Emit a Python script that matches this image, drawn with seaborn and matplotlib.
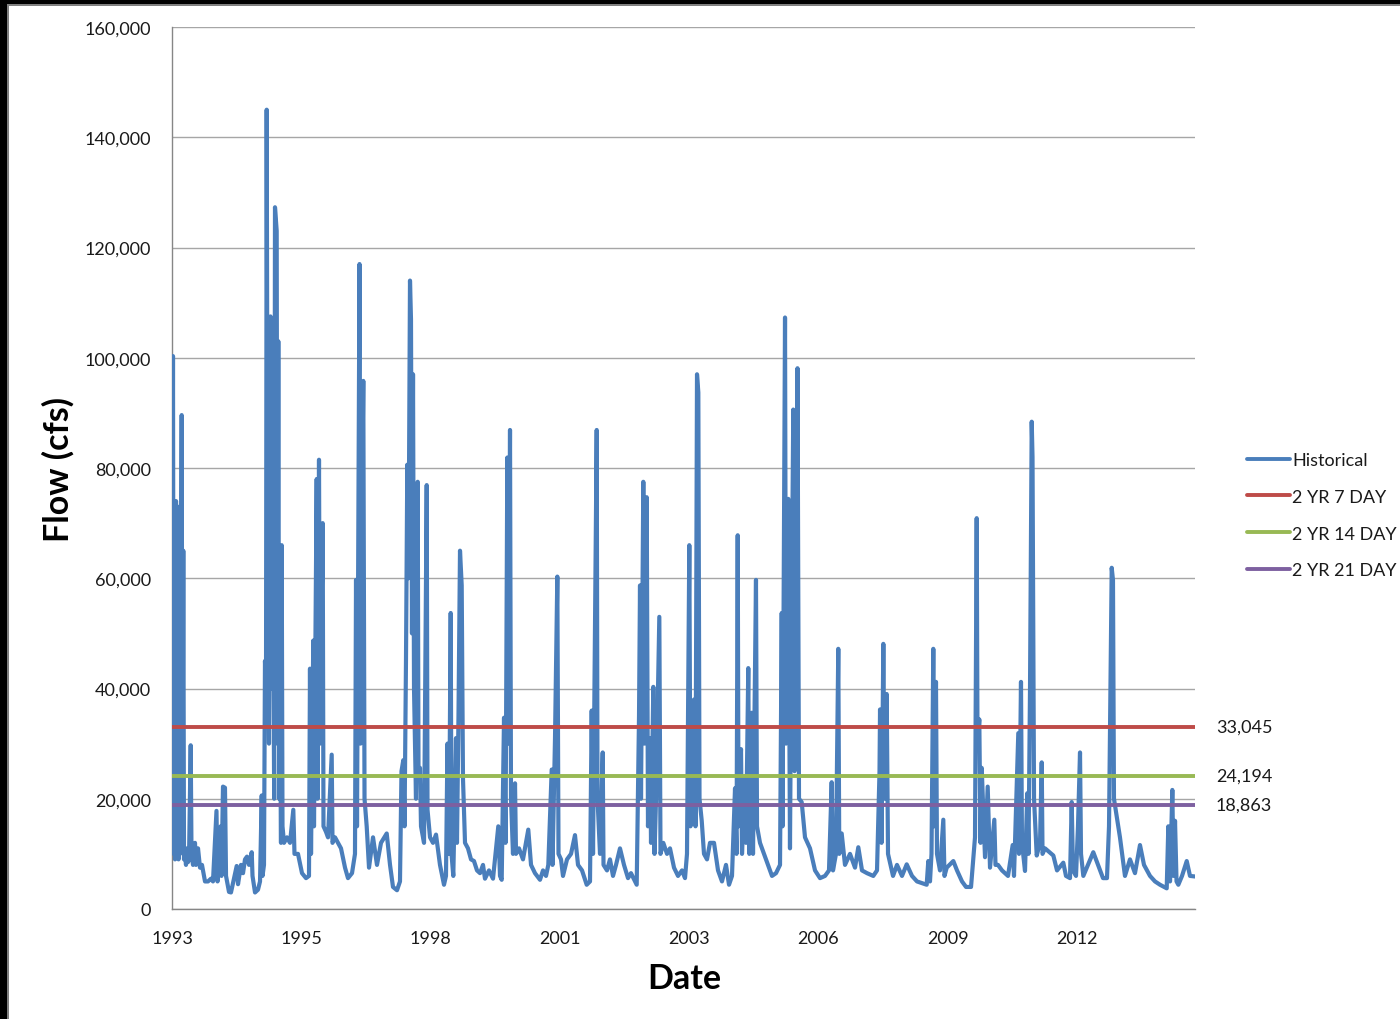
import numpy as np
import pandas as pd
import matplotlib
matplotlib.use("Agg")
import matplotlib.pyplot as plt
import matplotlib.dates as mdates
from matplotlib.ticker import FuncFormatter
from matplotlib.lines import Line2D
from matplotlib.patches import Rectangle
import seaborn as sns

# ---------------- data ----------------
# dates as decimal years
hist_year = [
    1993.000, 1993.011, 1993.021, 1993.036, 1993.053, 1993.064, 1993.085, 1993.106, 1993.116, 1993.138,
    1993.148, 1993.169, 1993.205, 1993.222, 1993.239, 1993.254, 1993.275, 1993.296, 1993.318, 1993.339,
    1993.360, 1993.396, 1993.413, 1993.445, 1993.487, 1993.508, 1993.551, 1993.593, 1993.635, 1993.699,
    1993.762, 1993.826, 1993.868, 1993.942, 1993.964, 1994.031, 1994.048, 1994.080, 1994.122, 1994.144,
    1994.207, 1994.249, 1994.370, 1994.398, 1994.461, 1994.504, 1994.546, 1994.588, 1994.631, 1994.688,
    1994.705, 1994.758, 1994.821, 1994.864, 1994.900, 1994.917, 1994.948, 1994.969, 1994.991, 1995.005,
    1995.027, 1995.054, 1995.086, 1995.107, 1995.139, 1995.164, 1995.181, 1995.217, 1995.234, 1995.251,
    1995.270, 1995.287, 1995.308, 1995.323, 1995.340, 1995.372, 1995.435, 1995.499, 1995.569, 1995.594,
    1995.668, 1995.753, 1995.838, 1995.901, 1995.922, 1995.944, 1995.992, 1996.007, 1996.064, 1996.081,
    1996.113, 1996.134, 1996.191, 1996.208, 1996.261, 1996.304, 1996.382, 1996.399, 1996.452, 1996.515,
    1996.579, 1996.664, 1996.727, 1996.812, 1996.875, 1996.897, 1996.918, 1996.971, 1996.992, 1997.009,
    1997.051, 1997.077, 1997.123, 1997.172, 1997.257, 1997.341, 1997.426, 1997.547, 1997.617, 1997.680,
    1997.765, 1997.828, 1997.860, 1997.898, 1997.924, 1997.955, 1997.983, 1998.008, 1998.040, 1998.061,
    1998.082, 1998.104, 1998.125, 1998.167, 1998.203, 1998.220, 1998.252, 1998.273, 1998.337, 1998.394,
    1998.411, 1998.464, 1998.527, 1998.591, 1998.675, 1998.760, 1998.802, 1998.834, 1998.866, 1998.902,
    1998.919, 1998.957, 1999.014, 1999.035, 1999.067, 1999.099, 1999.135, 1999.162, 1999.205, 1999.268,
    1999.332, 1999.395, 1999.459, 1999.523, 1999.586, 1999.628, 1999.713, 1999.798, 1999.910, 1999.946,
    1999.982, 2000.031, 2000.063, 2000.101, 2000.126, 2000.158, 2000.179, 2000.221, 2000.264, 2000.285,
    2000.348, 2000.433, 2000.545, 2000.603, 2000.687, 2000.793, 2000.857, 2000.920, 2000.969, 2001.041,
    2001.058, 2001.111, 2001.160, 2001.185, 2001.238, 2001.280, 2001.365, 2001.450, 2001.534, 2001.598,
    2001.683, 2001.782, 2001.852, 2001.888, 2001.916, 2001.994, 2002.011, 2002.064, 2002.121, 2002.138,
    2002.212, 2002.275, 2002.339, 2002.403, 2002.487, 2002.572, 2002.657, 2002.720, 2002.841, 2002.890,
    2002.911, 2002.932, 2002.981, 2003.006, 2003.053, 2003.080, 2003.123, 2003.144, 2003.193, 2003.218,
    2003.250, 2003.320, 2003.345, 2003.404, 2003.483, 2003.546, 2003.631, 2003.716, 2003.800, 2003.864,
    2003.906, 2003.955, 2003.980, 2004.012, 2004.054, 2004.086, 2004.118, 2004.146, 2004.171, 2004.218,
    2004.266, 2004.330, 2004.393, 2004.478, 2004.563, 2004.647, 2004.732, 2004.796, 2004.859, 2004.923,
    2004.955, 2004.980, 2004.997, 2005.050, 2005.071, 2005.134, 2005.156, 2005.204, 2005.226, 2005.276,
    2005.304, 2005.367, 2005.389, 2005.452, 2005.537, 2005.622, 2005.706, 2005.791, 2005.876, 2005.912,
    2005.929, 2005.982, 2006.003, 2006.051, 2006.087, 2006.109, 2006.157, 2006.183, 2006.229, 2006.246,
    2006.278, 2006.335, 2006.405, 2006.511, 2006.617, 2006.723, 2006.829, 2006.913, 2006.970, 2006.998,
    2007.061, 2007.110, 2007.131, 2007.182, 2007.252, 2007.358, 2007.464, 2007.534, 2007.612, 2007.718,
    2007.851, 2007.930, 2007.983, 2007.994, 2008.026, 2008.064, 2008.089, 2008.135, 2008.163, 2008.269,
    2008.353, 2008.459, 2008.559, 2008.671, 2008.777, 2008.982, 2009.016, 2009.052, 2009.084, 2009.122,
    2009.143, 2009.179, 2009.200, 2009.264, 2009.334, 2009.359, 2009.406, 2009.546, 2009.624, 2009.730,
    2009.815, 2009.921, 2010.005, 2010.041, 2010.058, 2010.096, 2010.122, 2010.147, 2010.217, 2010.274,
    2010.323, 2010.414, 2010.439, 2010.492, 2010.577, 2010.704, 2010.803, 2010.831, 2010.922, 2010.937,
    2010.979, 2011.000, 2011.064, 2011.112, 2011.138, 2011.170, 2011.206, 2011.223, 2011.255, 2011.312,
    2011.382, 2011.418, 2011.435, 2011.488, 2011.664, 2011.742, 2011.875, 2011.932, 2012.017, 2012.053,
    2012.080, 2012.144, 2012.186, 2012.229, 2012.250, 2012.299, 2012.398, 2012.510, 2012.610, 2012.716,
    2012.800, 2012.843, 2012.900, 2012.927, 2012.948, 2013.075, 2013.181, 2013.287, 2013.393, 2013.499,
    2013.584, 2013.711, 2013.817, 2013.923, 2014.065, 2014.099, 2014.135, 2014.184, 2014.209, 2014.241,
    2014.273, 2014.311, 2014.389, 2014.489, 2014.558, 2014.664,
]

hist_flow = [
    12000, 60000, 100300, 10000, 55000, 9000, 74000, 12000, 73000, 9000,
    68000, 10000, 89600, 12000, 65000, 9000, 10000, 8000, 11000, 8500,
    9000, 29700, 10000, 8000, 12000, 8000, 11000, 7500, 8000, 5000,
    5000, 5500, 5000, 17800, 5000, 15000, 6000, 22200, 22000, 6000,
    3100, 3000, 7800, 4500, 8000, 6500, 9000, 9500, 8000, 10300,
    6000, 3000, 3500, 5000, 20600, 6000, 8000, 45000, 40000, 145000,
    60000, 30000, 107500, 40000, 60000, 20000, 127300, 123000, 30000, 103000,
    20000, 40000, 12000, 66000, 15000, 12000, 13000, 12000, 18000, 10000,
    10000, 6500, 5600, 6000, 43600, 10000, 48700, 15000, 78000, 20000,
    81500, 30000, 70000, 15000, 14000, 13000, 28000, 12000, 13000, 12000,
    11000, 7500, 5600, 6500, 10000, 59700, 15000, 117000, 30000, 60000,
    95800, 20000, 15000, 7500, 13000, 8000, 12000, 13700, 8000, 4000,
    3400, 5000, 25000, 27000, 15000, 45000, 80600, 60000, 114000, 107000,
    50000, 97000, 40000, 20000, 77500, 25000, 25600, 15000, 12000, 76900,
    18000, 13000, 12000, 13500, 8000, 4400, 6000, 30000, 10000, 53700,
    10000, 6000, 31000, 12000, 35000, 65000, 58700, 23700, 12000, 11000,
    9000, 8700, 7000, 6500, 8000, 5500, 7000, 5500, 15000, 6000,
    5300, 34700, 12000, 81900, 30000, 86900, 20000, 10000, 22800, 10000,
    11000, 9000, 14400, 8000, 6500, 5300, 7000, 6000, 8000, 25300,
    8000, 31000, 60300, 10000, 9000, 6000, 9000, 10000, 13400, 8000,
    7000, 4400, 5000, 36000, 10000, 86900, 20000, 10000, 28400, 8000,
    7000, 9000, 6000, 8000, 11000, 8000, 5600, 6500, 4400, 35000,
    58700, 20000, 77500, 30000, 74700, 15000, 31000, 12000, 40300, 10000,
    20000, 53000, 10000, 12000, 10000, 11000, 7500, 6000, 7000, 5600,
    10000, 66000, 15000, 20000, 38000, 15000, 97000, 93700, 20000, 16000,
    10000, 9000, 12000, 12000, 7000, 5000, 8000, 4400, 6000, 21900,
    10000, 67800, 15000, 29000, 10000, 24000, 12000, 43700, 10000, 35600,
    10000, 59700, 15000, 12000, 10000, 8000, 6000, 6500, 8000, 53700,
    15000, 107300, 30000, 74400, 11000, 40000, 90600, 25000, 34400, 98100,
    20000, 19400, 13000, 11000, 7000, 5600, 6000, 7000, 23000, 7000,
    10000, 47200, 10000, 13700, 8000, 10000, 7500, 11200, 7000, 6500,
    6000, 7000, 25000, 36200, 12000, 48100, 20000, 39000, 10000, 6000,
    8000, 6000, 8100, 6000, 5000, 4400, 8700, 5000, 10000, 47200,
    15000, 41200, 10000, 7000, 16200, 6000, 7500, 8700, 7000, 5000,
    4000, 4000, 13000, 70900, 30000, 34400, 12000, 25600, 9400, 22200,
    7500, 16200, 8000, 8000, 7000, 6000, 11600, 6000, 31900, 10000,
    41200, 12000, 6900, 21000, 10000, 40000, 88400, 82000, 20000, 9700,
    12000, 26600, 10000, 11000, 9700, 7000, 8400, 6000, 5600, 19400,
    7000, 6000, 15000, 28400, 10000, 6000, 8000, 10300, 8000, 5600,
    5600, 15000, 61900, 59700, 20000, 13000, 6000, 9000, 6500, 11600,
    8000, 6000, 5000, 4400, 3750, 15000, 5000, 21600, 6000, 16000,
    5000, 4400, 6000, 8700, 6000, 5900,
]

series_names = ["Historical", "2 YR 7 DAY", "2 YR 14 DAY", "2 YR 21 DAY"]
threshold_values = [33045, 24194, 18863]
series_colors = ["#4A7EBB", "#BE4B48", "#98B954", "#7D60A0"]

y_ticks = [0, 20000, 40000, 60000, 80000, 100000, 120000, 140000, 160000]
x_tick_step_days = 1000
x_start = "1993-01-01"
x_end_year = 2014.664

# ---------------- build frame ----------------
start = pd.Timestamp(x_start)
def year_to_date(yrs):
    yrs = np.asarray(yrs, dtype=float)
    return start + pd.to_timedelta((yrs - 1993.0) * 365.25, unit="D")

df = pd.DataFrame({"date": year_to_date(hist_year), "flow": hist_flow})

# ---------------- figure ----------------
sns.set_theme(style="white")
plt.rcParams["font.family"] = ["Lato", "DejaVu Sans"]

fig = plt.figure(figsize=(14, 10.2), dpi=100)
fig.patch.set_facecolor("white")
ax = fig.add_axes([172/1400, 1-910/1020, (1195-172)/1400, (910-28)/1020])

sns.lineplot(data=df, x="date", y="flow", ax=ax, color=series_colors[0],
             linewidth=3.0, estimator=None, sort=False, zorder=3)

for val, col in zip(threshold_values, series_colors[1:]):
    ax.axhline(val, color=col, linewidth=2.8, zorder=4)
    ax.text(1.0205, val, f"{val:,}", transform=ax.get_yaxis_transform(),
            ha="left", va="center", fontsize=13, color="#1a1a1a")

ax.set_ylim(0, 160000)
ax.set_yticks(y_ticks)
ax.yaxis.set_major_formatter(FuncFormatter(lambda v, p: f"{int(v):,}"))
ax.grid(axis="y", color="#A6A6A6", linewidth=1.0, zorder=0)
ax.grid(axis="x", visible=False)

end = year_to_date([x_end_year])[0]
ax.set_xlim(start, end)
xt = [start + pd.Timedelta(days=x_tick_step_days * i) for i in range(8)]
ax.set_xticks(xt)
ax.xaxis.set_major_formatter(mdates.DateFormatter("%Y"))

for s in ["top", "right"]:
    ax.spines[s].set_visible(False)
for s in ["left", "bottom"]:
    ax.spines[s].set_color("#868686")
    ax.spines[s].set_linewidth(1.0)
ax.tick_params(axis="both", which="major", direction="out", length=6, width=1,
               color="#868686", labelsize=13, labelcolor="#1a1a1a")
ax.tick_params(axis="y", pad=9)
ax.tick_params(axis="x", pad=9)
ax.set_xlabel("")
ax.set_ylabel("")

fig.text(58/1400, 1-470/1020, "Flow (cfs)", rotation=90, ha="center", va="center",
         fontsize=24.5, fontweight="bold", color="black")
fig.text(684/1400, 1-979/1020, "Date", ha="center", va="center",
         fontsize=24.5, fontweight="bold", color="black")

handles = [Line2D([0], [0], color=c, linewidth=2.8) for c in series_colors]
leg = fig.legend(handles, series_names, loc="upper left",
                 bbox_to_anchor=(1247/1400, 1-453/1020), frameon=False,
                 fontsize=13, handlelength=2.4, handletextpad=0.1,
                 labelspacing=1.15, borderaxespad=0, borderpad=0)
for t in leg.get_texts():
    t.set_color("#1a1a1a")

# black frame remnants on the top and left edges
fig.patches.append(Rectangle((0, 1-5/1020), 1, 5/1020, transform=fig.transFigure,
                             facecolor="black", edgecolor="none", zorder=10))
fig.patches.append(Rectangle((0, 1-7/1020), 1, 2/1020, transform=fig.transFigure,
                             facecolor="#808080", edgecolor="none", zorder=10))
fig.patches.append(Rectangle((0, 0), 7/1400, 1, transform=fig.transFigure,
                             facecolor="black", edgecolor="none", zorder=10))
fig.patches.append(Rectangle((7/1400, 0), 1.5/1400, 1-5/1020, transform=fig.transFigure,
                             facecolor="#808080", edgecolor="none", zorder=10))

fig.savefig("out.png", dpi=100)
